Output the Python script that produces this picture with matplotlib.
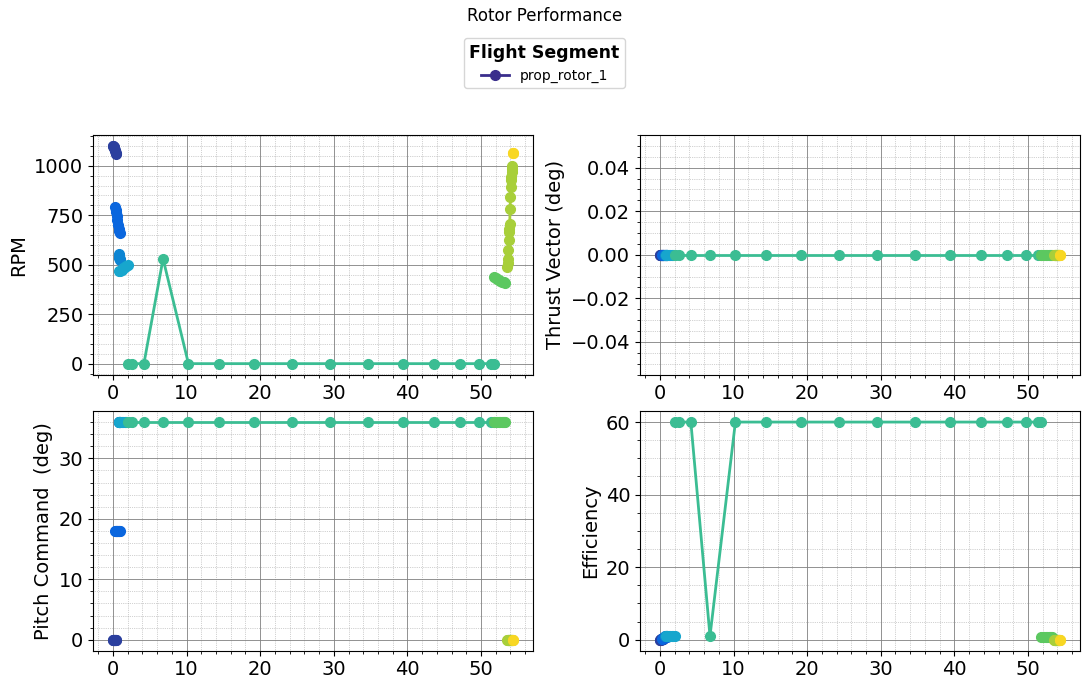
import matplotlib
matplotlib.use("Agg")
import matplotlib.pyplot as plt
from matplotlib.lines import Line2D

# Segment data (time in minutes)
seg_time = [
    [0.0, 0.05, 0.1, 0.15, 0.2, 0.25, 0.3, 0.35, 0.4],
    [0.3, 0.37, 0.45, 0.52, 0.6, 0.67, 0.75, 0.82, 0.9],
    [0.75, 0.8, 0.85, 0.9, 0.95],
    [0.8, 1.0, 1.2, 1.4, 1.6, 1.8, 2.0],
    [2.05, 2.6, 4.2, 6.8, 10.25, 14.45, 19.2, 24.3, 29.5, 34.6, 39.35, 43.6, 47.15, 49.75, 51.35, 51.8],
    [51.8, 52.0, 52.2, 52.4, 52.6, 52.8, 53.0, 53.15, 53.3],
    [53.6, 53.62, 53.65, 53.7, 53.75, 53.8, 53.85, 53.9, 53.95, 54.0, 54.05, 54.1, 54.13, 54.16, 54.18, 54.2],
    [54.3, 54.35],
]
seg_rpm = [
    [1100, 1099, 1097, 1093, 1088, 1081, 1072, 1064, 1057],
    [790, 778, 765, 746, 725, 702, 680, 670, 662],
    [553, 544, 535, 528, 522],
    [467, 470, 475, 481, 487, 492, 497],
    [0, 0, 0, 530, 0, 0, 0, 0, 0, 0, 0, 0, 0, 0, 0, 0],
    [440, 434, 428, 423, 418, 415, 412, 410, 409],
    [489, 506, 531, 573, 623, 665, 682, 707, 779, 841, 891, 928, 942, 967, 983, 1000],
    [1065, 1065],
]
seg_thrust_vec = [
    [0] * 9,
    [0] * 9,
    [0] * 5,
    [0] * 7,
    [0] * 16,
    [0] * 9,
    [0] * 16,
    [0, 0],
]
seg_pitch = [
    [0] * 9,
    [18] * 9,
    [36] * 5,
    [36] * 7,
    [36] * 16,
    [36] * 9,
    [0] * 16,
    [0, 0],
]
seg_eff = [
    [0.0, 0.02, 0.05, 0.08, 0.1, 0.12, 0.15, 0.18, 0.2],
    [0.3, 0.4, 0.5, 0.6, 0.7, 0.75, 0.8, 0.85, 0.9],
    [1.0] * 5,
    [1.0] * 7,
    [60, 60, 60, 1, 60, 60, 60, 60, 60, 60, 60, 60, 60, 60, 60, 60],
    [0.7] * 9,
    [0] * 16,
    [0, 0],
]
rotor_tag = "prop_rotor_1"

seg_colors = ['#2b3f9e', '#0a66de', '#0d85d3', '#17a6cd',
              '#3bbd93', '#5cc860', '#a8cf3a', '#f8d723']

fig, axes = plt.subplots(2, 2, figsize=(10.89, 6.9), dpi=100)
fig.subplots_adjust(left=0.0854, right=0.9917, bottom=0.057, top=0.8043,
                    wspace=0.243, hspace=0.153)

panels = [
    (axes[0, 0], seg_rpm, "RPM"),
    (axes[0, 1], seg_thrust_vec, "Thrust Vector (deg)"),
    (axes[1, 0], seg_pitch, "Pitch Command  (deg)"),
    (axes[1, 1], seg_eff, "Efficiency"),
]

for ax, data, ylabel in panels:
    for t, y, c in zip(seg_time, data, seg_colors):
        ax.plot(t, y, color=c, marker='o', markersize=7, linewidth=2)
    ax.set_ylabel(ylabel, fontsize=14)
    ax.tick_params(axis='both', labelsize=14)
    ax.minorticks_on()
    ax.grid(which='major', color='grey', linestyle='-', linewidth=0.6)
    ax.grid(which='minor', color='grey', linestyle=':', linewidth=0.5, alpha=0.7)
    ax.set_axisbelow(True)

handle = Line2D([], [], color='#3a2e8c', marker='o', markersize=7, linewidth=2)
leg = fig.legend([handle], [rotor_tag], loc='upper center',
                 bbox_to_anchor=(0.5, 0.955), title="Flight Segment",
                 fontsize=10, title_fontproperties={'weight': 'bold', 'size': 12.5})

fig.suptitle("Rotor Performance", fontsize=12, y=0.99)

plt.savefig("out.png")
